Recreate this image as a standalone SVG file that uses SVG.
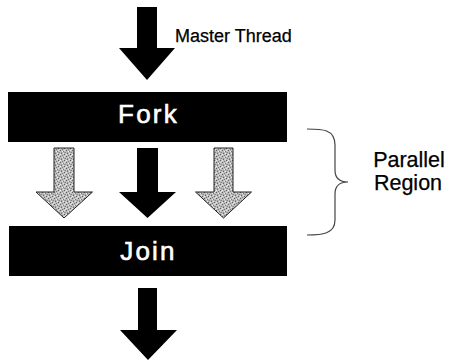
<svg xmlns="http://www.w3.org/2000/svg" width="451" height="363" viewBox="0 0 451 363">
<style>
.box{fill:#000}
.boxtxt{font-family:"Liberation Sans",Arial,sans-serif;font-size:26px;fill:#fff;stroke:#fff;stroke-width:0.6;text-anchor:middle;letter-spacing:2.2px}
.lbl{font-family:"Liberation Sans",Arial,sans-serif;fill:#000;stroke:#000;stroke-width:0.25}
.blk{fill:#000}
.gry{fill:url(#stip);stroke:#222;stroke-width:1}
.brace{fill:none;stroke:#444;stroke-width:1.2}
</style>
<defs>
<pattern id="stip" width="6" height="6" patternUnits="userSpaceOnUse">
<rect width="6" height="6" fill="#bdbdbd"/>
<rect x="0" y="0" width="1" height="1" fill="#5e5e5e"/>
<rect x="3" y="1" width="1" height="1" fill="#7a7a7a"/>
<rect x="1" y="3" width="1" height="1" fill="#6a6a6a"/>
<rect x="4" y="4" width="1" height="1" fill="#5e5e5e"/>
<rect x="5" y="2" width="1" height="1" fill="#888"/>
<rect x="2" y="5" width="1" height="1" fill="#7a7a7a"/>
<rect x="2" y="1" width="1" height="1" fill="#ececec"/>
<rect x="4" y="0" width="1" height="1" fill="#e0e0e0"/>
<rect x="0" y="4" width="1" height="1" fill="#ececec"/>
<rect x="3" y="3" width="1" height="1" fill="#e6e6e6"/>
<rect x="5" y="5" width="1" height="1" fill="#e0e0e0"/>
<rect x="1" y="2" width="1" height="1" fill="#9a9a9a"/>
<rect x="4" y="2" width="1" height="1" fill="#a0a0a0"/>
</pattern>
</defs>
<g id="connectors">
<path class="blk" d="M137,7 H157 V48 H175 L147,80 L119,48 H137 Z"/>
<path class="gry" d="M54,148 H74 V192 H92.5 L64,218 L36,192 H54 Z"/>
<path class="blk" d="M137,148 H158 V192 H176 L147.5,218 L119,192 H137 Z"/>
<path class="gry" d="M214,148 H233 V192 H251.5 L223.5,218 L195.5,192 H214 Z"/>
<path class="blk" d="M138,288 H157 V330 H177 L148,360 L120,330 H138 Z"/>
</g>
<g id="master-thread">
<text class="lbl" x="175" y="42" font-size="18">Master Thread</text>
</g>
<g id="fork">
<rect class="box" x="8" y="92" width="279" height="50"/>
<text class="boxtxt" x="148.5" y="123">Fork</text>
</g>
<g id="join">
<rect class="box" x="9" y="226" width="278" height="50"/>
<text class="boxtxt" x="148.5" y="260">Join</text>
</g>
<g id="parallel-region">
<path class="brace" d="M307,129 C322,129 335,129 335,145 V170 C335,178 340,182 348,182 C340,182 335,186 335,194 V220 C335,234 322,235 307,235"/>
<text class="lbl" x="409" y="167" font-size="21.5" text-anchor="middle">Parallel</text>
<text class="lbl" x="408" y="190" font-size="21.5" text-anchor="middle">Region</text>
</g>
</svg>
